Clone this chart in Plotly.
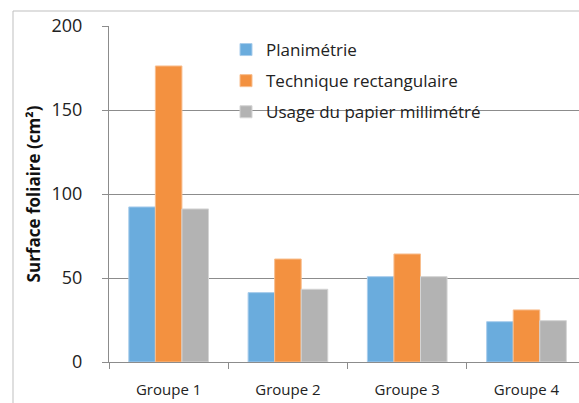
import plotly.graph_objects as go

categories = ["Groupe 1", "Groupe 2", "Groupe 3", "Groupe 4"]
planimetrie = [92.3, 41.3, 50.8, 24.0]
technique_rect = [176.2, 61.3, 64.3, 31.0]
papier_mill = [91.1, 43.3, 50.8, 24.6]
series_names = ["Planimétrie", "Technique rectangulaire", "Usage du papier millimétré"]
y_ticks = [0, 50, 100, 150, 200]

colors = ["#6aacdd", "#f39140", "#b3b3b3"]
edges = ["#a9cdec", "#f8be8e", "#d4d4d4"]

fig = go.Figure()
for i, (name, vals) in enumerate(zip(series_names, [planimetrie, technique_rect, papier_mill])):
    fig.add_trace(go.Bar(
        x=categories, y=vals, name=name,
        marker=dict(color=colors[i], line=dict(color=edges[i], width=1)),
        legendgroup=f"g{i}",
    ))

W, H = 579, 403
L, R, T, B = 109, 0, 26, 41
pw = W - L - R
ph = H - T - B

fig.update_layout(
    width=W, height=H,
    margin=dict(l=L, r=R, t=T, b=B),
    paper_bgcolor="white", plot_bgcolor="white",
    barmode="group", bargap=0.332, bargroupgap=0,
    font=dict(family="Open Sans", color="#222222"),
    showlegend=True,
    legend=dict(
        x=(226 - L) / pw, y=1 - (32 - T) / ph, xanchor="left", yanchor="top",
        bgcolor="rgba(0,0,0,0)", font=dict(size=17, color="#222222"),
        tracegroupgap=6, itemwidth=30,
    ),
    xaxis=dict(
        range=[-0.5, 3.44], showline=True, linecolor="#8c8c8c", linewidth=1,
        ticks="outside", tickson="boundaries", ticklen=6, tickcolor="#8c8c8c",
        tickfont=dict(size=15, color="#222222"), ticklabelstandoff=14, showgrid=False,
    ),
    yaxis=dict(
        range=[0, 200], tickvals=y_ticks, showline=True, linecolor="#8c8c8c", linewidth=1,
        ticks="outside", ticklen=6, tickcolor="#8c8c8c", gridcolor="#8c8c8c", gridwidth=1,
        tickfont=dict(size=18, color="#222222"), ticklabelstandoff=16,
        title=dict(text="<b>Surface foliaire (cm²)</b>", font=dict(size=17, color="#111111"), standoff=6),
        zeroline=False,
    ),
)

# outer chart border (top and left edges visible)
x0 = (13 - L) / pw
y0 = 1 + (T - 11) / ph
fig.add_shape(type="line", xref="paper", yref="paper", x0=x0, x1=x0, y0=-0.2, y1=y0,
              line=dict(color="#bfbfbf", width=1))
fig.add_shape(type="line", xref="paper", yref="paper", x0=x0, x1=1.05, y0=y0, y1=y0,
              line=dict(color="#bfbfbf", width=1))

fig.write_html("out.html", config={"displayModeBar": False},
               post_script="document.body.style.margin='0';document.body.style.overflow='hidden';")
